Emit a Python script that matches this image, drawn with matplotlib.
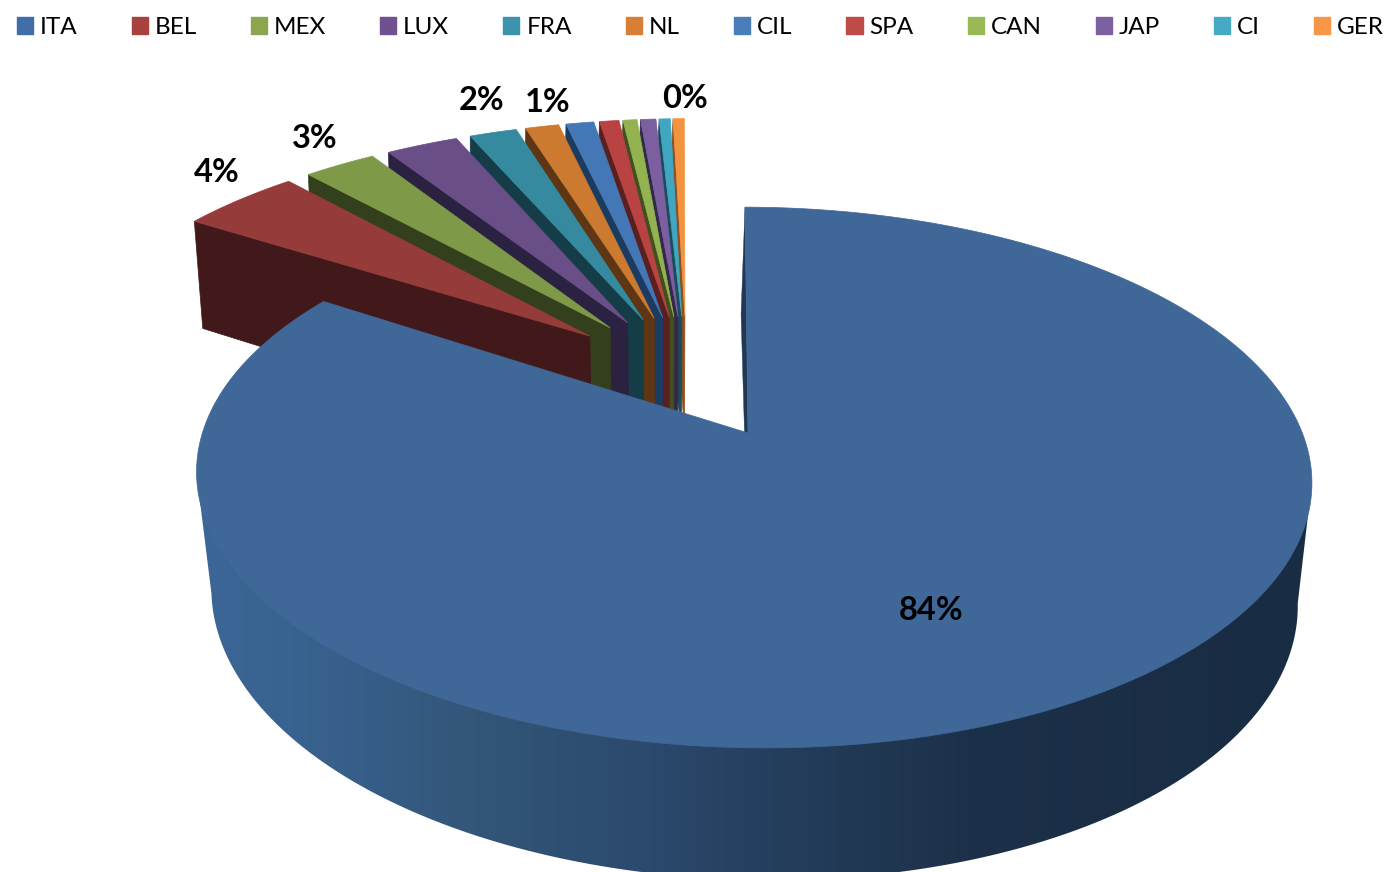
import numpy as np
import matplotlib
matplotlib.use("Agg")
import matplotlib.pyplot as plt
from matplotlib.patches import Polygon, Patch
from matplotlib.colors import LinearSegmentedColormap

plt.rcParams['font.family'] = ['Lato', 'DejaVu Sans']

names = ['ITA', 'BEL', 'MEX', 'LUX', 'FRA', 'NL', 'CIL', 'SPA', 'CAN', 'JAP', 'CI', 'GER']
values = [84.0, 4.3, 2.6, 2.6, 1.7, 1.2, 1.0, 0.7, 0.5, 0.55, 0.4, 0.4]
top_colors = ['#3F6797', '#953C3B', '#7E9A48', '#694E88', '#358A9F', '#CB7A30',
              '#4477B6', '#B84342', '#93B350', '#7C5FA0', '#40A6C2', '#F4933F']
wall_colors = ['#1E3855', '#42191A', '#333F1D', '#2B2140', '#153D47', '#5E3613',
               '#1B3C60', '#5A1F1F', '#41501F', '#33284B', '#1B4C5A', '#8A5020']
legend_colors = ['#3F6EA8', '#A8403E', '#8CA650', '#6F5192', '#3C93AD', '#D97F35',
                 '#4A7EBB', '#BE4B48', '#98B954', '#7D60A0', '#46AAC5', '#F79646']
labelled = {'ITA': (931, 610), 'BEL': (217, 173), 'MEX': (315, 138),
            'FRA': (482, 100), 'NL': (548, 103), 'GER': (685, 98)}

# perspective of the pie, in pixels
CX, CY = 748, 433
A, B, K = 550, 263, 0.1645
DEPTH, SHRINK = 122, 0.026
EXPLODE = 0.245
SMALL_R = 1.012
SMALL_ROT = -0.8


def project(u, v, z=0.0):
    u = np.asarray(u, dtype=float)
    v = np.asarray(v, dtype=float)
    w = 1 + K * v - 0.01 * u + SHRINK * z
    dx = A * u / w - 4 * v * z
    dy0 = -B * v / w
    dy = (-B * v + DEPTH * z) / w
    x = dx + 0.0133 * dy0
    y = dy + 0.006 * x
    return CX + x, CY + y


def arc_uv(a0, a1, n=120):
    t = np.radians(np.linspace(a0, a1, n))
    return np.sin(t), np.cos(t)


fig = plt.figure(figsize=(13.87, 8.72), dpi=100)
ax = fig.add_axes([0, 0, 1, 1])
ax.axis('off')

total = sum(values)
angles = np.cumsum([0] + values) / total * 360
mids = (angles[:-1] + angles[1:]) / 2
base_u = -EXPLODE * np.sin(np.radians(mids[0]))
base_v = -EXPLODE * np.cos(np.radians(mids[0])) + 0.016

# small slices, back to front
for i in range(len(values) - 1, 0, -1):
    a0, a1 = angles[i], angles[i + 1]
    ou = base_u + EXPLODE * np.sin(np.radians(mids[i]))
    ov = base_v + EXPLODE * np.cos(np.radians(mids[i]))
    su, sv = arc_uv(a0 + SMALL_ROT, a1 + SMALL_ROT, 30)
    su, sv = SMALL_R * su + ou, SMALL_R * sv + ov

    x0, y0 = project([ou, su[0]], [ov, sv[0]])
    x1, y1 = project([su[0], ou], [sv[0], ov], 1)
    ax.add_patch(Polygon(np.column_stack([np.r_[x0, x1], np.r_[y0, y1]]),
                         fc=wall_colors[i], ec=wall_colors[i], lw=0.5))
    x, y = project(np.r_[ou, su], np.r_[ov, sv])
    ax.add_patch(Polygon(np.column_stack([x, y]), fc=top_colors[i], ec=top_colors[i], lw=0.5))

# big slice: outer wall with a shade running left to right
# only the front part shows, between the two widest points of the ellipse
shade = LinearSegmentedColormap.from_list('shade', [
    (0.0, '#3B6696'), (0.12, '#37608C'), (0.25, '#335678'), (0.4, '#2B4A6E'),
    (0.52, '#243F5D'), (0.7, '#1D3049'), (1.0, '#182C43')])
fold = np.degrees(np.arccos(-K))
fu, fv = arc_uv(fold, 360 - fold, 300)
xt, yt = project(fu[[0, -1]], fv[[0, -1]])
xb, yb = project(fu, fv, 1)
wall = Polygon(np.column_stack([np.r_[xt[0], xb, xt[1]], np.r_[yt[0], yb, yt[1]]]),
               fc='none', ec='none')
ax.add_patch(wall)
grad_x = np.linspace(150, 1350, 600)
img = ax.imshow(np.clip((grad_x - 200) / 1100, 0, 1).reshape(1, -1), cmap=shade, aspect='auto',
                extent=(150, 1350, 900, 300))
img.set_clip_path(wall)

# cut face at 12 o'clock, mostly hidden by the top
su, sv = arc_uv(angles[0], angles[1], 500)
x0, y0 = project([0, su[0]], [0, sv[0]])
x1, y1 = project([su[0], 0], [sv[0], 0], 1)
ax.add_patch(Polygon(np.column_stack([np.r_[x0, x1], np.r_[y0, y1]]),
                     fc=wall_colors[0], ec=wall_colors[0], lw=0.3))

x, y = project(np.r_[0, su], np.r_[0, sv])
ax.add_patch(Polygon(np.column_stack([x, y]), fc=top_colors[0], ec=top_colors[0], lw=0.5))

for name, pos in labelled.items():
    val = values[names.index(name)]
    ax.text(pos[0], pos[1], f"{val:.0f}%", ha='center', va='center',
            fontsize=23.5, fontweight='bold', color='black')

ax.set_xlim(0, 1387)
ax.set_ylim(872, 0)

handles = [Patch(fc=c, ec=c, label=n) for n, c in zip(names, legend_colors)]
fig.legend(handles=handles, loc='upper left', bbox_to_anchor=(17 / 1387, 1 - 17 / 872),
           ncol=12, frameon=False, fontsize=17.5, borderpad=0, borderaxespad=0,
           handlelength=0.66, handleheight=0.66, handletextpad=0.28, columnspacing=2.23)

fig.savefig('out.png', dpi=100)
